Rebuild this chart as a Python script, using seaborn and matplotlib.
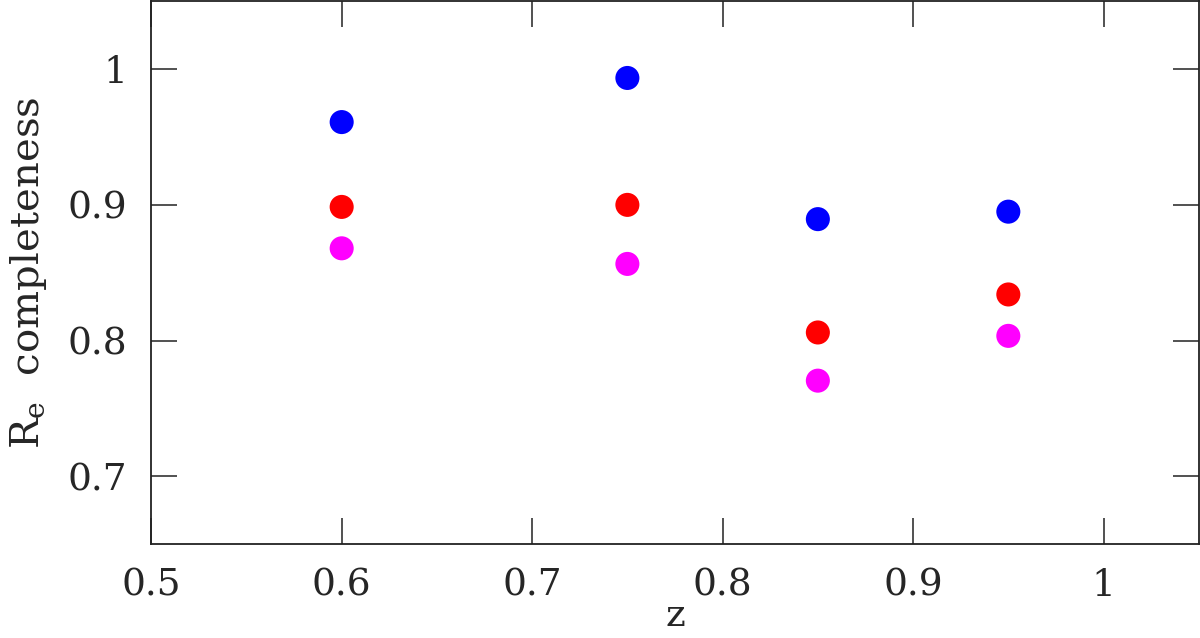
import matplotlib
matplotlib.use("Agg")
import matplotlib.pyplot as plt
import seaborn as sns
import pandas as pd

# values
z_vals = [0.6, 0.75, 0.85, 0.95]
blue_vals = [0.961, 0.9935, 0.8895, 0.895]
red_vals = [0.8985, 0.900, 0.806, 0.834]
magenta_vals = [0.868, 0.8565, 0.7705, 0.8035]

series_names = ["blue", "red", "magenta"]
series_colors = {"blue": "#0000ff", "red": "#ff0000", "magenta": "#ff00ff"}

df = pd.DataFrame({
    "z": z_vals * 3,
    "completeness": blue_vals + red_vals + magenta_vals,
    "series": ["blue"] * 4 + ["red"] * 4 + ["magenta"] * 4,
})

sns.set_style("ticks")
plt.rcParams["font.family"] = ["DejaVu Serif"]
plt.rcParams["mathtext.fontset"] = "dejavuserif"

fig = plt.figure(figsize=(12, 6.38), dpi=100)
ax = fig.add_axes([0.126, 0.147, 0.873, 0.851])

sns.scatterplot(data=df, x="z", y="completeness", hue="series",
                hue_order=series_names, palette=series_colors,
                s=300, linewidth=0, legend=False, ax=ax)

ax.set_xlim(0.5, 1.05)
ax.set_ylim(0.65, 1.05)
ax.set_xticks([0.5, 0.6, 0.7, 0.8, 0.9, 1.0])
ax.set_xticklabels(["0.5", "0.6", "0.7", "0.8", "0.9", "1"])
ax.set_yticks([0.7, 0.8, 0.9, 1.0])
ax.set_yticklabels(["0.7", "0.8", "0.9", "1"])
ax.tick_params(direction="in", length=19, width=1.2, top=True, right=True,
               labelsize=27, color="#333333")
ax.tick_params(axis="x", pad=17)
ax.tick_params(axis="y", pad=17)
for sp in ax.spines.values():
    sp.set_linewidth(1.3)
    sp.set_color("#222222")

ax.set_xlabel("z", fontsize=27, labelpad=-4)
ax.set_ylabel(r"R$_{\rm e}$  completeness", fontsize=29, labelpad=14)

fig.savefig("out.png", dpi=100)
